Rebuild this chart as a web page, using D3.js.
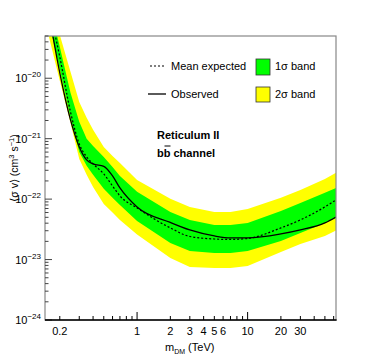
<!DOCTYPE html>
<html>
<head>
<script src="https://cdn.jsdelivr.net/npm/d3@7"></script>
<style>
  body { margin: 0; background: #fff; }
  text { font-family: "Liberation Sans", Arial, Helvetica, sans-serif; fill: #000; }
</style>
</head>
<body>
<svg width="374" height="356"></svg>
<script>
// dark matter mass (TeV)
var mass = [0.15, 0.2, 0.25, 0.3, 0.35, 0.4, 0.5, 0.6, 0.7, 1, 2, 3, 5, 7, 10, 20, 30, 50, 63];

// <sigma v> limits (cm^3 s^-1)
var expected = [2.4e-19, 2.26e-20, 2.78e-21, 8.2e-22, 5.0e-22, 3.83e-22, 2.61e-22, 1.65e-22, 1.13e-22, 7.15e-23,
  3.34e-23, 2.41e-23, 2.19e-23, 2.15e-23, 2.23e-23, 3.34e-23, 4.53e-23, 7.43e-23, 9.7e-23];
var observed = [2.31e-19, 1.23e-20, 2.05e-21, 7.31e-22, 4.46e-22, 3.83e-22, 3.48e-22, 2.42e-22, 1.53e-22, 7.43e-23,
  4.11e-23, 3.09e-23, 2.46e-23, 2.28e-23, 2.28e-23, 2.65e-23, 3.09e-23, 4.04e-23, 5.07e-23];
var sigma1Up = [2.91e-19, 3.31e-20, 5.73e-21, 1.90e-21, 9.93e-22, 7.60e-22, 5.0e-22, 3.41e-22, 2.42e-22, 1.32e-22,
  6.14e-23, 4.53e-23, 3.74e-23, 3.74e-23, 4.04e-23, 6.38e-23, 8.65e-23, 1.27e-22, 1.53e-22];
var sigma1Down = [1.36e-19, 1.43e-20, 2.21e-21, 6.04e-22, 3.55e-22, 2.52e-22, 1.48e-22, 1.05e-22, 8.02e-23, 4.36e-23,
  1.88e-23, 1.39e-23, 1.29e-23, 1.29e-23, 1.39e-23, 2.03e-23, 2.75e-23, 4.04e-23, 4.89e-23];
var sigma2Up = [3.39e-19, 5.23e-20, 1.28e-20, 4.06e-21, 2.21e-21, 1.40e-21, 7.31e-22, 5.19e-22, 3.97e-22, 2.08e-22,
  1.01e-22, 7.43e-23, 6.14e-23, 6.14e-23, 6.89e-23, 1.05e-22, 1.42e-22, 2.16e-22, 2.72e-22];
var sigma2Down = [7.66e-20, 9.06e-21, 1.83e-21, 4.63e-22, 2.52e-22, 1.59e-22, 8.33e-23, 6.03e-23, 4.53e-23, 2.61e-23,
  1.06e-23, 7.54e-24, 7.26e-24, 7.26e-24, 7.83e-24, 1.34e-23, 1.81e-23, 2.46e-23, 3.03e-23];

var xTickLabels = [0.2, 1, 2, 3, 4, 5, 6, 10, 20, 30];
var yDecades = [-24, -23, -22, -21, -20];

var svg = d3.select("svg");
var pLeft = 45, pRight = 336, pTop = 36, pBottom = 320;

var x = d3.scaleLog().domain([0.147, 63]).range([pLeft, pRight]);
var y = d3.scaleLog().domain([1e-24, 5.0e-20]).range([pBottom, pTop]);

svg.append("clipPath").attr("id", "plot")
  .append("rect").attr("x", pLeft).attr("y", pTop).attr("width", pRight - pLeft).attr("height", pBottom - pTop);

var g = svg.append("g").attr("clip-path", "url(#plot)");

function band(hi, lo) {
  return d3.area()
    .x(function(d, i) { return x(mass[i]); })
    .y0(function(d, i) { return y(lo[i]); })
    .y1(function(d, i) { return y(hi[i]); })(mass);
}
g.append("path").attr("d", band(sigma2Up, sigma2Down)).attr("fill", "#ffff00");
g.append("path").attr("d", band(sigma1Up, sigma1Down)).attr("fill", "#00ff00");

var line = function(vals) {
  return d3.line().curve(d3.curveMonotoneX)
    .x(function(d, i) { return x(mass[i]); })
    .y(function(d) { return y(d); })(vals);
};
g.append("path").attr("d", line(expected)).attr("fill", "none")
  .attr("stroke", "#000").attr("stroke-width", 1.2).attr("stroke-dasharray", "2,2");
g.append("path").attr("d", line(observed)).attr("fill", "none")
  .attr("stroke", "#000").attr("stroke-width", 1.3);

// frame
svg.append("rect").attr("x", pLeft).attr("y", pTop).attr("width", pRight - pLeft).attr("height", pBottom - pTop)
  .attr("fill", "none").attr("stroke", "#888").attr("stroke-width", 1.2);

// y axis ticks (inside)
var ax = svg.append("g");
yDecades.forEach(function(e) {
  for (var k = 1; k < 10; k++) {
    var v = k * Math.pow(10, e);
    var yy = y(v);
    if (yy < pTop - 0.5 || yy > pBottom + 0.5) continue;
    ax.append("line").attr("x1", pLeft).attr("x2", pLeft + (k === 1 ? 7 : 3.5))
      .attr("y1", yy).attr("y2", yy).attr("stroke", "#444").attr("stroke-width", 1);
  }
  var t = ax.append("text").attr("x", 41).attr("y", y(Math.pow(10, e)) + 4)
    .attr("text-anchor", "end").style("font-size", "11px");
  t.append("tspan").text("10");
  t.append("tspan").attr("dy", -5).style("font-size", "8px").text("\u2212" + (-e));
});

// x axis ticks (inside)
[-1, 0, 1].forEach(function(e) {
  for (var k = 1; k < 10; k++) {
    var v = k * Math.pow(10, e);
    var xx = x(v);
    if (xx < pLeft + 0.5 || xx > pRight + 0.5) continue;
    ax.append("line").attr("x1", xx).attr("x2", xx)
      .attr("y1", pBottom).attr("y2", pBottom - (k === 1 ? 8 : 4))
      .attr("stroke", "#000").attr("stroke-width", 1);
  }
});
xTickLabels.forEach(function(v) {
  ax.append("text").attr("x", x(v)).attr("y", 335).attr("text-anchor", "middle")
    .style("font-size", "11px").text(v);
});
ax.append("line").attr("x1", pLeft).attr("x2", pRight + 0.6).attr("y1", pBottom).attr("y2", pBottom)
  .attr("stroke", "#000").attr("stroke-width", 1.4);

// axis titles
var xt = svg.append("text").attr("x", 165).attr("y", 351).style("font-size", "11px");
xt.append("tspan").text("m");
xt.append("tspan").attr("dy", 2.5).style("font-size", "7px").text("DM");
xt.append("tspan").attr("dy", -2.5).text(" (TeV)");

var yt = svg.append("text").attr("transform", "translate(18,168) rotate(-90)")
  .attr("text-anchor", "middle").style("font-size", "10.5px");
yt.append("tspan").text("\u27e8\u03c3 v\u27e9 (cm");
yt.append("tspan").attr("dy", -4).style("font-size", "7.5px").text("3");
yt.append("tspan").attr("dy", 4).text(" s");
yt.append("tspan").attr("dy", -4).style("font-size", "7.5px").text("\u22121");
yt.append("tspan").attr("dy", 4).text(")");

// legend
var lg = svg.append("g").style("font-size", "11px");
lg.append("line").attr("x1", 150).attr("x2", 166).attr("y1", 66).attr("y2", 66)
  .attr("stroke", "#000").attr("stroke-width", 1.2).attr("stroke-dasharray", "2,2");
lg.append("text").attr("x", 171).attr("y", 70).text("Mean expected");
lg.append("line").attr("x1", 148).attr("x2", 166).attr("y1", 94).attr("y2", 94)
  .attr("stroke", "#000").attr("stroke-width", 1.3);
lg.append("text").attr("x", 171).attr("y", 98).text("Observed");
lg.append("rect").attr("x", 256).attr("y", 59).attr("width", 14).attr("height", 16)
  .attr("fill", "#00ff00").attr("stroke", "#333").attr("stroke-width", 0.8);
lg.append("text").attr("x", 275).attr("y", 70).text("1\u03c3 band");
lg.append("rect").attr("x", 256).attr("y", 87).attr("width", 14).attr("height", 15)
  .attr("fill", "#ffff00").attr("stroke", "#333").attr("stroke-width", 0.8);
lg.append("text").attr("x", 275).attr("y", 98).text("2\u03c3 band");

// source label
svg.append("text").attr("x", 157).attr("y", 139).style("font-size", "11px")
  .style("font-weight", "bold").text("Reticulum II");
svg.append("text").attr("x", 157).attr("y", 157).style("font-size", "11px")
  .style("font-weight", "bold").text("bb channel");
svg.append("line").attr("x1", 164.5).attr("x2", 170.5).attr("y1", 146).attr("y2", 146)
  .attr("stroke", "#000").attr("stroke-width", 1);
</script>
</body>
</html>
